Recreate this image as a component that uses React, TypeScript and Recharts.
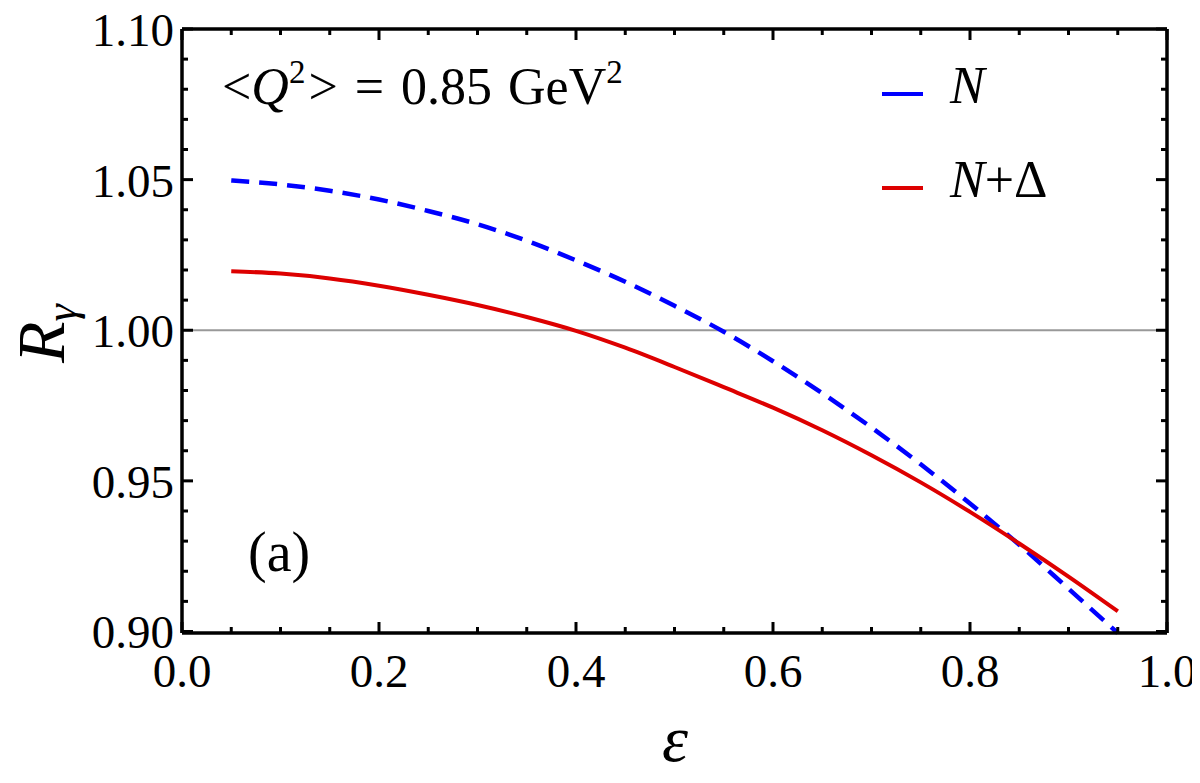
import React from 'react'
import { LineChart, XAxis, YAxis, Line, ReferenceLine, ReferenceDot, Legend } from 'recharts'

// epsilon grid and R_gamma
const epsilon = [0.05, 0.10, 0.15, 0.20, 0.25, 0.30, 0.35, 0.40, 0.45, 0.50, 0.55, 0.60, 0.65, 0.70, 0.75, 0.80, 0.85, 0.90, 0.95]
const rNucleon = [1.0497, 1.0484, 1.0463, 1.0434, 1.0396, 1.0352, 1.0297, 1.0232, 1.0161, 1.0081, 0.9995, 0.9897, 0.9791, 0.9677, 0.9555, 0.9425, 0.9288, 0.9142, 0.8995]
const rNucleonDelta = [1.0196, 1.0188, 1.0172, 1.0148, 1.0118, 1.0084, 1.0044, 0.9998, 0.9942, 0.9878, 0.9811, 0.9743, 0.9668, 0.9585, 0.9495, 0.9397, 0.9292, 0.9182, 0.9067]

const seriesNames = ['N', 'N+Δ']
const xTicks = [0, 0.05, 0.1, 0.15, 0.2, 0.25, 0.3, 0.35, 0.4, 0.45, 0.5, 0.55, 0.6, 0.65, 0.7, 0.75, 0.8, 0.85, 0.9, 0.95, 1]
const yTicks = [0.9, 0.91, 0.92, 0.93, 0.94, 0.95, 0.96, 0.97, 0.98, 0.99, 1, 1.01, 1.02, 1.03, 1.04, 1.05, 1.06, 1.07, 1.08, 1.09, 1.1]

const data = epsilon.map((e, i) => ({ eps: e, n: rNucleon[i], nd: rNucleonDelta[i] }))

const W = 1192
const H = 775
const PLOT_W = 985
const PLOT_H = 604
const FONT = "'Liberation Serif', 'Times New Roman', serif"
const BLUE = '#0000ff'
const RED = '#dd0000'

const isStep = (v: number, step: number) => Math.abs(v / step - Math.round(v / step)) < 1e-6

const XTick = (props: any) => {
  const { x, y, payload } = props
  const v = payload.value
  const major = isStep(v, 0.2)
  const len = major ? 11 : 6
  return (
    <g>
      <line x1={x} y1={y} x2={x} y2={y - len} stroke="#000" strokeWidth={3} />
      <line x1={x} y1={y - PLOT_H} x2={x} y2={y - PLOT_H + len} stroke="#000" strokeWidth={3} />
      {major && (
        <text x={x} y={y + 54} textAnchor="middle" fontFamily={FONT} fontSize={47} fill="#000">
          {v.toFixed(1)}
        </text>
      )}
    </g>
  )
}

const YTick = (props: any) => {
  const { x, y, payload } = props
  const v = payload.value
  const major = isStep(v, 0.05)
  const len = major ? 11 : 6
  return (
    <g>
      <line x1={x} y1={y} x2={x + len} y2={y} stroke="#000" strokeWidth={3} />
      <line x1={x + PLOT_W} y1={y} x2={x + PLOT_W - len} y2={y} stroke="#000" strokeWidth={3} />
      {major && (
        <text x={x - 8} y={y + 17} textAnchor="end" fontFamily={FONT} fontSize={47} fill="#000">
          {v.toFixed(2)}
        </text>
      )}
    </g>
  )
}

const XTitle = (props: any) => {
  const { viewBox } = props
  return (
    <text x={viewBox.x + 493} y={753} textAnchor="middle" fontFamily={FONT} fontSize={66} fontStyle="italic" fill="#000">
      ε
    </text>
  )
}

const YTitle = () => (
  <text transform="translate(56,355) rotate(-90)" fontFamily={FONT} fontSize={68} fill="#000">
    <tspan fontStyle="italic">R</tspan>
    <tspan fontStyle="italic" fontSize={44} dy={12}>γ</tspan>
  </text>
)

const QText = (props: any) => (
  <text x={props.cx} y={props.cy} fontFamily={FONT} fontSize={52} fill="#000">
    <tspan>&lt;</tspan>
    <tspan fontStyle="italic">Q</tspan>
    <tspan fontSize={33} dy={-21}>2</tspan>
    <tspan dy={21} dx={3}>&gt;</tspan>
    <tspan dx={17}>=</tspan>
    <tspan dx={17}>0.85</tspan>
    <tspan dx={16}>GeV</tspan>
    <tspan fontSize={33} dy={-21}>2</tspan>
  </text>
)

const PanelText = (props: any) => (
  <text x={props.cx} y={props.cy} fontFamily={FONT} fontSize={56} fill="#000">
    (a)
  </text>
)

const LegendBox = () => (
  <svg width={220} height={170} style={{ display: 'block' }}>
    <line x1={12} y1={44} x2={53} y2={44} stroke={BLUE} strokeWidth={4} />
    <text x={80} y={53} fontFamily={FONT} fontSize={52} fontStyle="italic" fill="#000">{seriesNames[0]}</text>
    <line x1={12} y1={138} x2={53} y2={138} stroke={RED} strokeWidth={4} />
    <text x={80} y={147} fontFamily={FONT} fontSize={52} fill="#000">
      <tspan fontStyle="italic">N</tspan>
      <tspan>+Δ</tspan>
    </text>
  </svg>
)

const App = () => (
  <LineChart width={W} height={H} data={data} margin={{ top: 21, right: 33, left: 74, bottom: 50 }}>
    <XAxis
      dataKey="eps"
      type="number"
      domain={[0, 1]}
      ticks={xTicks}
      interval={0}
      height={100}
      tickSize={0}
      tickMargin={0}
      tickLine={false}
      tick={<XTick />}
      axisLine={{ stroke: '#000', strokeWidth: 3.5 }}
      label={<XTitle />}
    />
    <YAxis
      type="number"
      domain={[0.9, 1.1]}
      ticks={yTicks}
      interval={0}
      width={100}
      tickSize={0}
      tickMargin={0}
      tickLine={false}
      tick={<YTick />}
      axisLine={{ stroke: '#000', strokeWidth: 3.5 }}
      label={<YTitle />}
    />
    <ReferenceLine y={1.1} stroke="#000" strokeWidth={3.5} />
    <ReferenceLine x={1} stroke="#000" strokeWidth={3.5} />
    <ReferenceLine y={1} stroke="#999" strokeWidth={2} />
    <Line type="monotone" dataKey="n" name={seriesNames[0]} stroke={BLUE} strokeWidth={4.5} strokeDasharray="18 10" dot={false} isAnimationActive={false} />
    <Line type="monotone" dataKey="nd" name={seriesNames[1]} stroke={RED} strokeWidth={4} dot={false} isAnimationActive={false} />
    <ReferenceDot x={0.0406} y={1.0752} r={0} shape={<QText />} />
    <ReferenceDot x={0.067} y={0.9202} r={0} shape={<PanelText />} />
    <Legend
      layout="horizontal"
      verticalAlign="middle"
      align="center"
      content={<LegendBox />}
      wrapperStyle={{ left: 862, top: 42, width: 220, height: 170 }}
    />
  </LineChart>
)

export default App
